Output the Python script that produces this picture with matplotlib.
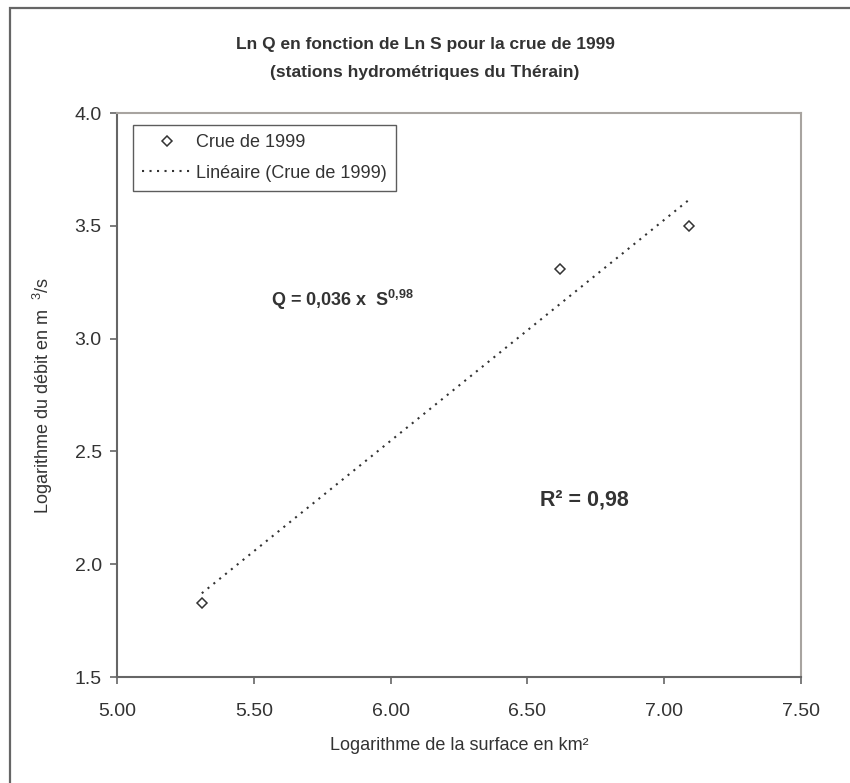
#!/usr/bin/env python3
"""Ln Q vs Ln S for the 1999 flood (Thérain gauging stations)."""

import numpy as np
import matplotlib
matplotlib.use("Agg")
import matplotlib.pyplot as plt
from matplotlib.patches import Rectangle

# data
ln_s = [5.31, 6.62, 7.09]
ln_q = [1.83, 3.31, 3.50]
x_ticks = [5.00, 5.50, 6.00, 6.50, 7.00, 7.50]
y_ticks = [1.5, 2.0, 2.5, 3.0, 3.5, 4.0]

plt.rcParams["font.family"] = ["Liberation Sans", "DejaVu Sans"]
plt.rcParams["mathtext.fontset"] = "custom"
plt.rcParams["mathtext.rm"] = "Liberation Sans"
plt.rcParams["mathtext.bf"] = "Liberation Sans:bold"

TXT = "#333333"
AX = "#666666"

fig = plt.figure(figsize=(8.5, 7.83), dpi=100)
ax = fig.add_axes([117 / 850, 1 - 677 / 783, (801 - 117) / 850, (677 - 113) / 783])

# outer chart frame
fig.patches.append(Rectangle((10 / 850, -0.01), 1.0, 1 - 8 / 783 + 0.01,
                             transform=fig.transFigure, fill=False,
                             edgecolor="#666666", lw=1.6))

ax.plot(ln_s, ln_q, linestyle="none", marker="D", markersize=5.5,
        markerfacecolor="white", markeredgecolor="#333333", markeredgewidth=1.1,
        label="Crue de 1999")

# linear trend (Excel style)
slope, intercept = np.polyfit(ln_s, ln_q, 1)
xs = np.array([min(ln_s), max(ln_s)])
ax.plot(xs, slope * xs + intercept, color="#333333", lw=1.5,
        linestyle=(0, (1, 2.6)), label="Linéaire (Crue de 1999)")

ax.set_xlim(5.0, 7.5)
ax.set_ylim(1.5, 4.0)
ax.set_xticks(x_ticks)
ax.set_yticks(y_ticks)
ax.set_xticklabels([f"{v:.2f}" for v in x_ticks])
ax.set_yticklabels([f"{v:.1f}" for v in y_ticks])
ax.tick_params(direction="out", length=5, width=1.2, color=AX,
               labelsize=14, labelcolor=TXT, pad=6)
ax.tick_params(axis="x", pad=14)
for side in ("left", "bottom"):
    ax.spines[side].set_color(AX)
    ax.spines[side].set_linewidth(1.5)
for side in ("top", "right"):
    ax.spines[side].set_color("#a8a4a0")
    ax.spines[side].set_linewidth(1.5)

ax.set_xlabel("Logarithme de la surface en km²", fontsize=13, color=TXT, labelpad=12)
ax.set_ylabel("Logarithme du débit en m  $^{3}$/s", fontsize=13, color=TXT, labelpad=14)

fig.text(0.5, 1 - 45 / 783, "Ln Q en fonction de Ln S pour la crue de 1999",
         ha="center", va="center", fontsize=12.5, fontweight="bold", color=TXT)
fig.text(0.5, 1 - 73 / 783, "(stations hydrométriques du Thérain)",
         ha="center", va="center", fontsize=12.5, fontweight="bold", color=TXT)

ax.text(5.825, 3.17, "Q = 0,036 x  S$^{\\mathbf{0{,}98}}$", ha="center", va="center",
        fontsize=13, fontweight="bold", color=TXT)
ax.text(6.71, 2.285, "R² = 0,98", ha="center", va="center",
        fontsize=15.5, fontweight="bold", color=TXT)

leg = ax.legend(loc="upper left", bbox_to_anchor=(16 / 684, 1 - 12 / 564), fontsize=13,
                frameon=True, fancybox=False, edgecolor="#333333",
                handlelength=2.8, borderpad=0.5, labelspacing=0.75,
                handletextpad=0.2, borderaxespad=0)
leg.get_frame().set_linewidth(1.0)
for t in leg.get_texts():
    t.set_color(TXT)

fig.savefig("out.png", dpi=100)
